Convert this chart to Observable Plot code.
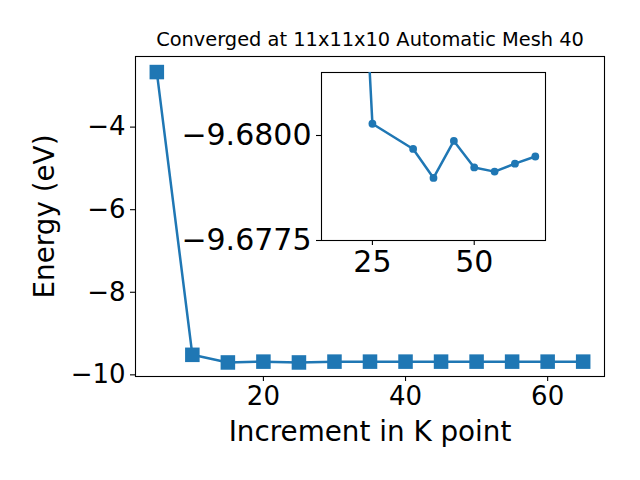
<!DOCTYPE html>
<html>
<head>
<meta charset="utf-8">
<script src="https://cdn.jsdelivr.net/npm/d3@7"></script>
<script src="https://cdn.jsdelivr.net/npm/@observablehq/plot@0.6"></script>
<style>
  html, body { margin: 0; padding: 0; background: #fff; }
  #wrap { position: relative; width: 640px; height: 480px; font-family: "DejaVu Sans", sans-serif; }
  #wrap svg { position: absolute; left: 0; top: 0; overflow: visible; }
</style>
</head>
<body>
<div id="wrap"></div>
<script>
// Main series
const kPoints = [5, 10, 15, 20, 25, 30, 35, 40, 45, 50, 55, 60, 65];
const energies = [-2.667, -9.515, -9.70, -9.68, -9.70, -9.68, -9.68, -9.68, -9.68, -9.68, -9.68, -9.68, -9.68];
// Inset series
const insetK = [15, 20, 25, 35, 40, 45, 50, 55, 60, 65];
const insetE = [-9.700, -9.6896, -9.68028, -9.67968, -9.67899, -9.67987, -9.67924, -9.67914, -9.67933, -9.67950];
// Tick labels
const mainXTicks = [20, 40, 60];
const mainYTicks = [-4, -6, -8, -10];
const insetXTicks = [25, 50];
const insetYTicks = [-9.6800, -9.6775];
const titleText = "Converged at 11x11x10 Automatic Mesh 40";
const xLabel = "Increment in K point";
const yLabel = "Energy (eV)";

const blue = "#1f77b4";
const mainData = kPoints.map((k, i) => ({k, e: energies[i]}));
const insetData = insetK.map((k, i) => ({k, e: insetE[i]}));
const minus = d3.format("d");

const main = Plot.plot({
  width: 640, height: 480,
  marginLeft: 135, marginRight: 36, marginTop: 56, marginBottom: 104,
  style: {fontFamily: "DejaVu Sans", background: "transparent", overflow: "visible"},
  x: {domain: [2, 68]},
  y: {domain: [-10.04, -2.29]},
  marks: [
    Plot.frame({stroke: "black", strokeWidth: 1.1}),
    Plot.axisX({ticks: mainXTicks, tickSize: 5, tickPadding: 5, fontSize: 26, label: null, tickFormat: minus, strokeWidth: 1.1}),
    Plot.axisY({ticks: mainYTicks, tickSize: 5, tickPadding: 5, fontSize: 26, label: null, tickFormat: minus, strokeWidth: 1.1}),
    Plot.text([xLabel], {frameAnchor: "bottom", dy: 64, fontSize: 27.8, fill: "black"}),
    Plot.text([yLabel], {frameAnchor: "left", dx: -90, rotate: -90, textAnchor: "middle", fontSize: 27.8, fill: "black"}),
    Plot.text([titleText], {frameAnchor: "top", dy: -24, fontSize: 19.4, fill: "black"}),
    Plot.line(mainData, {x: "k", y: "e", stroke: blue, strokeWidth: 2.5}),
    Plot.dot(mainData, {x: "k", y: "e", symbol: "square", r: 8.2, fill: blue, stroke: null})
  ]
});

const inset = Plot.plot({
  width: 640, height: 480,
  marginLeft: 321, marginRight: 95, marginTop: 72, marginBottom: 240,
  style: {fontFamily: "DejaVu Sans", background: "transparent", overflow: "visible"},
  x: {domain: [12.5, 67.5]},
  y: {domain: [-9.6775, -9.6815]},
  marks: [
    Plot.frame({fill: "white"}),
    Plot.frame({stroke: "black", strokeWidth: 1.1}),
    Plot.axisX({ticks: insetXTicks, tickSize: 5, tickPadding: 5, fontSize: 30, label: null, tickFormat: minus, strokeWidth: 1.1}),
    Plot.axisY({ticks: insetYTicks, tickSize: 5, tickPadding: 5, fontSize: 30, label: null, tickFormat: d3.format(".4f"), strokeWidth: 1.1}),
    Plot.line(insetData, {x: "k", y: "e", stroke: blue, strokeWidth: 2.5, clip: true}),
    Plot.dot(insetData, {x: "k", y: "e", r: 3.9, fill: blue, stroke: null, clip: true})
  ]
});

const wrap = document.getElementById("wrap");
wrap.appendChild(main);
wrap.appendChild(inset);
</script>
</body>
</html>
